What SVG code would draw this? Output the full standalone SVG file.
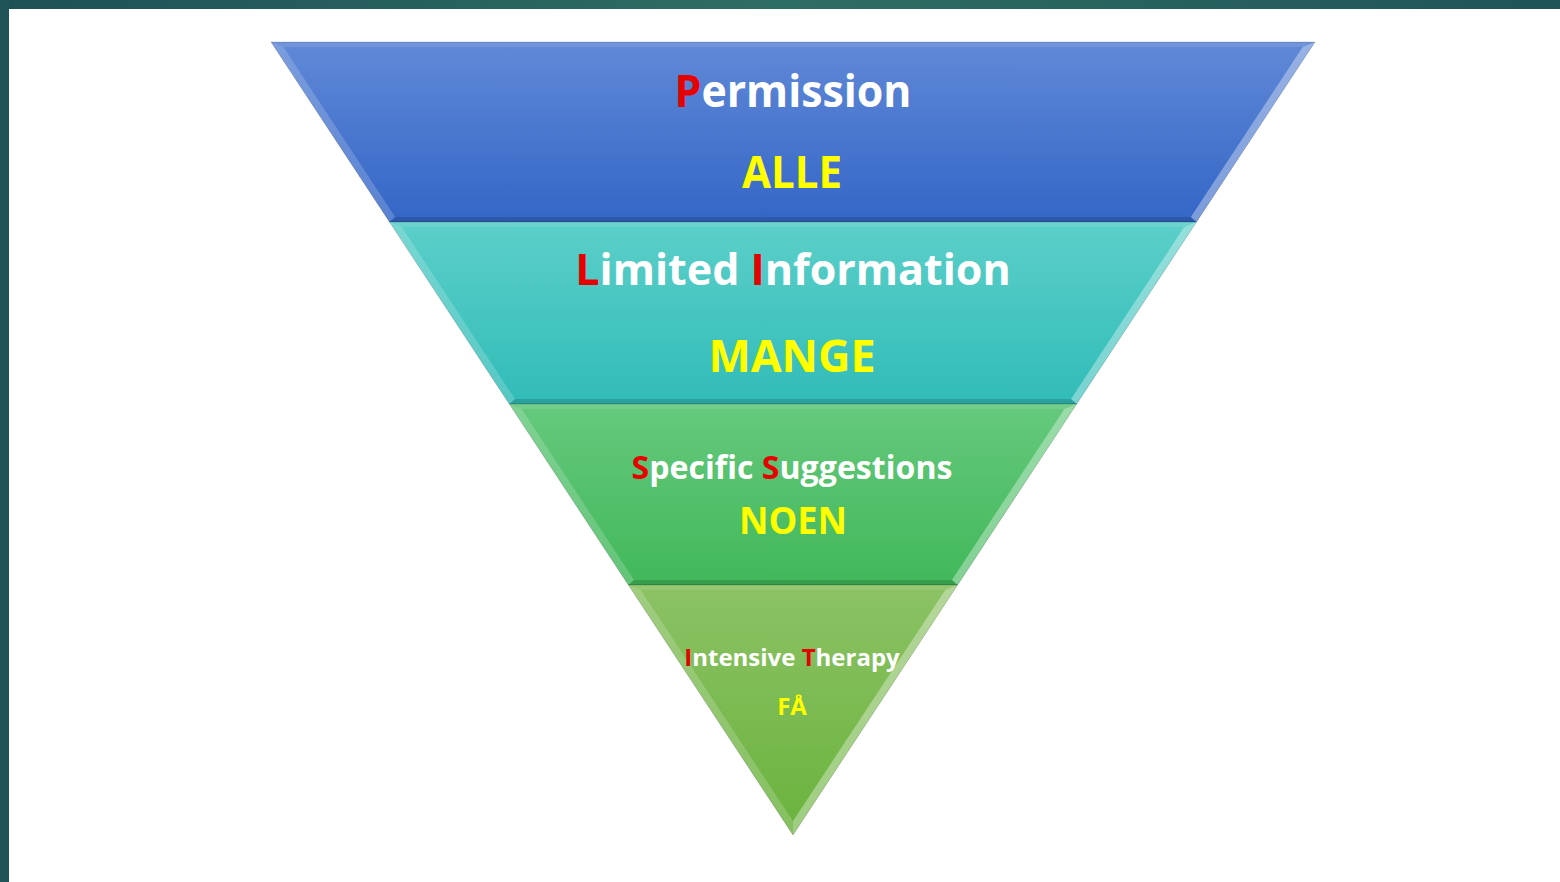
<svg xmlns="http://www.w3.org/2000/svg" width="1560" height="882" viewBox="0 0 1560 882">
<style>
  .t { font-family: "Open Sans", "Noto Sans", "Liberation Sans", sans-serif; font-weight: bold; text-anchor: middle; }
  .w { fill: #ffffff; }
  .r { fill: #e60000; }
  .y { fill: #ffff00; }
  .hl { fill: #ffffff; fill-opacity: 0.18; }
  .hr { fill: #ffffff; fill-opacity: 0.35; }
  .sb { fill: #000000; fill-opacity: 0.14; }
  .st { fill: #ffffff; fill-opacity: 0.10; }
  .edge { fill: none; stroke: #000000; stroke-opacity: 0.15; stroke-width: 1; }
</style>
<defs>
  <linearGradient id="gTop" x1="0" y1="0" x2="1" y2="0">
    <stop offset="0" stop-color="#1d5157"/>
    <stop offset="0.5" stop-color="#2f6e63"/>
    <stop offset="1" stop-color="#1f5459"/>
  </linearGradient>
  <linearGradient id="g1" x1="0" y1="0" x2="0" y2="1">
    <stop offset="0" stop-color="#6089d7"/>
    <stop offset="1" stop-color="#3466c7"/>
  </linearGradient>
  <linearGradient id="g2" x1="0" y1="0" x2="0" y2="1">
    <stop offset="0" stop-color="#5ccfc9"/>
    <stop offset="1" stop-color="#31bcb8"/>
  </linearGradient>
  <linearGradient id="g3" x1="0" y1="0" x2="0" y2="1">
    <stop offset="0" stop-color="#65c97d"/>
    <stop offset="1" stop-color="#41b85a"/>
  </linearGradient>
  <linearGradient id="g4" x1="0" y1="0" x2="0" y2="1">
    <stop offset="0" stop-color="#8cc265"/>
    <stop offset="1" stop-color="#6ab33d"/>
  </linearGradient>
</defs>
<rect x="0" y="0" width="1560" height="882" fill="#ffffff"/>
<rect x="0" y="0" width="1560" height="9" fill="url(#gTop)"/>
<rect x="0" y="0" width="9" height="882" fill="#1f5558"/>

<g id="band-permission">
  <polygon points="271,42 1315,42 1196.5,222 389.5,222" fill="url(#g1)"/>
  <polygon class="st" points="271,42 1315,42 1302.7,47 283.3,47"/>
  <polygon class="hl" points="271,42 283.3,47 395.2,217 389.5,222"/>
  <polygon class="hr" points="1315,42 1302.7,47 1190.8,217 1196.5,222"/>
  <polygon class="sb" points="389.5,222 395.2,217 1190.8,217 1196.5,222"/>
  <polygon class="edge" points="271,42 1315,42 1196.5,222 389.5,222"/>
  <text class="t w" x="793" y="107" font-size="45" textLength="237" lengthAdjust="spacingAndGlyphs"><tspan class="r">P</tspan>ermission</text>
  <text class="t y" x="792" y="188" font-size="45" textLength="100" lengthAdjust="spacingAndGlyphs">ALLE</text>
</g>

<g id="band-limited">
  <polygon points="389.5,222 1196.5,222 1076.7,404 509.3,404" fill="url(#g2)"/>
  <polygon class="st" points="389.5,222 1196.5,222 1184.2,227 401.8,227"/>
  <polygon class="hl" points="389.5,222 401.8,227 515,399 509.3,404"/>
  <polygon class="hr" points="1196.5,222 1184.2,227 1071,399 1076.7,404"/>
  <polygon class="sb" points="509.3,404 515,399 1071,399 1076.7,404"/>
  <polygon class="edge" points="389.5,222 1196.5,222 1076.7,404 509.3,404"/>
  <text class="t w" x="793" y="285" font-size="43"><tspan class="r">L</tspan>imited <tspan class="r">I</tspan>nformation</text>
  <text class="t y" x="792" y="372" font-size="44" textLength="167" lengthAdjust="spacingAndGlyphs">MANGE</text>
</g>

<g id="band-specific">
  <polygon points="509.3,404 1076.7,404 957.6,585 628.4,585" fill="url(#g3)"/>
  <polygon class="st" points="509.3,404 1076.7,404 1064.4,409 521.6,409"/>
  <polygon class="hl" points="509.3,404 521.6,409 634.1,580 628.4,585"/>
  <polygon class="hr" points="1076.7,404 1064.4,409 951.9,580 957.6,585"/>
  <polygon class="sb" points="628.4,585 634.1,580 951.9,580 957.6,585"/>
  <polygon class="edge" points="509.3,404 1076.7,404 957.6,585 628.4,585"/>
  <text class="t w" x="792" y="479" font-size="32" textLength="321" lengthAdjust="spacingAndGlyphs"><tspan class="r">S</tspan>pecific <tspan class="r">S</tspan>uggestions</text>
  <text class="t y" x="793" y="534" font-size="38" textLength="108" lengthAdjust="spacingAndGlyphs">NOEN</text>
</g>

<g id="band-intensive">
  <polygon points="628.4,585 957.6,585 793,835" fill="url(#g4)"/>
  <polygon class="st" points="628.4,585 957.6,585 945.3,590 640.7,590"/>
  <polygon class="hl" points="628.4,585 640.7,590 793,821 793,835"/>
  <polygon class="hr" points="957.6,585 945.3,590 793,821 793,835"/>
  <polygon class="edge" points="628.4,585 957.6,585 793,835"/>
  <text class="t w" x="792" y="666" font-size="24"><tspan class="r">I</tspan>ntensive <tspan class="r">T</tspan>herapy</text>
  <text class="t y" x="792" y="715" font-size="24">FÅ</text>
</g>
</svg>
